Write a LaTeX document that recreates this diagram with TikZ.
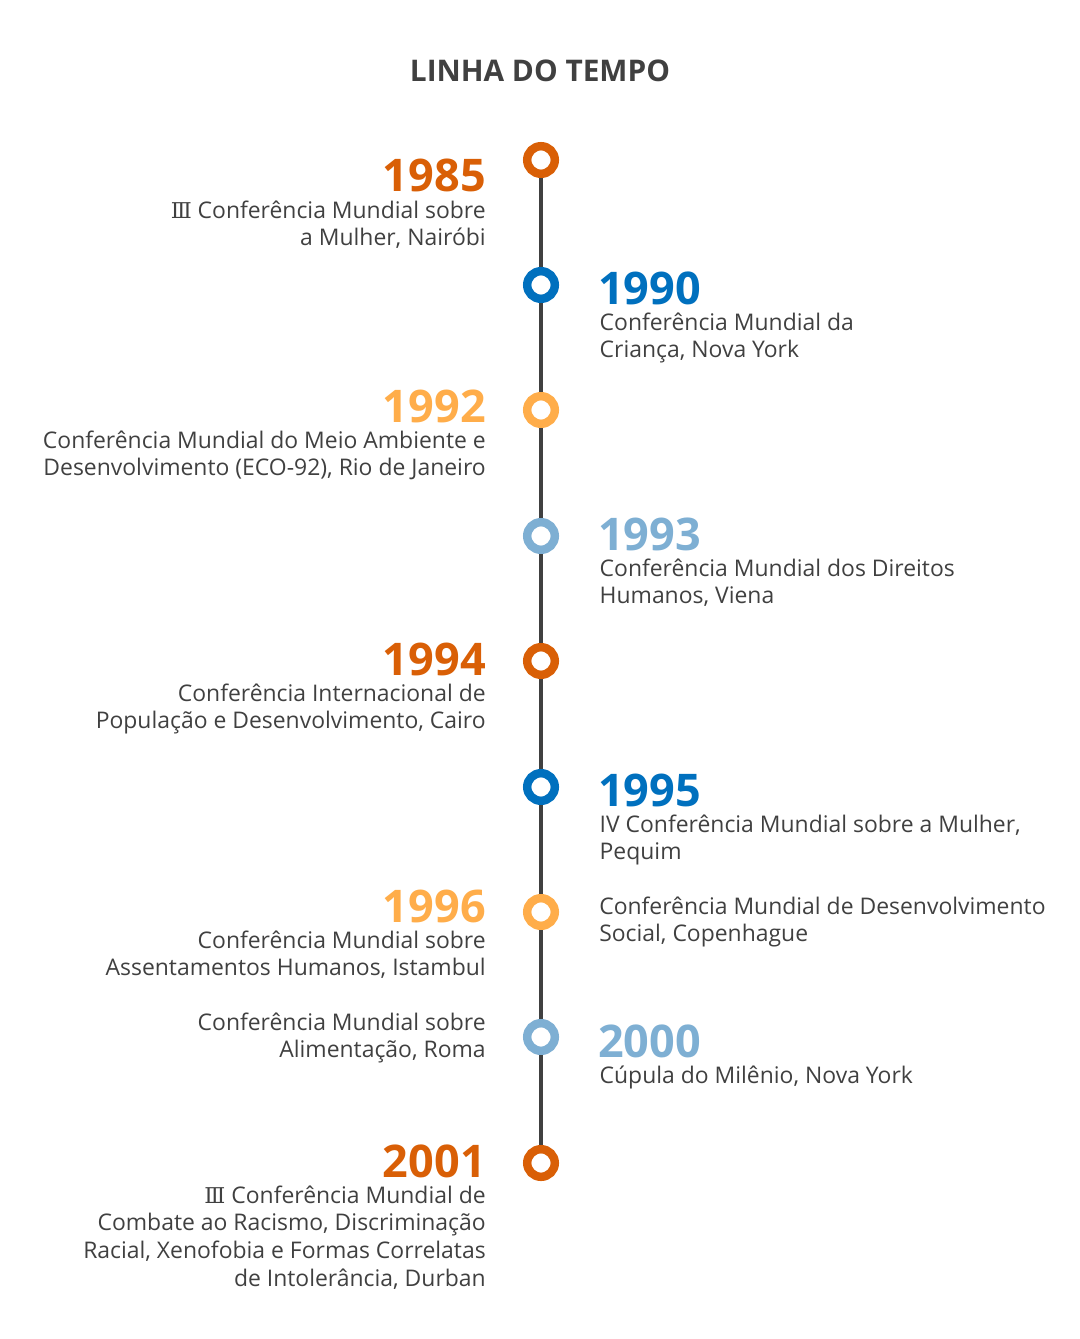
\documentclass[tikz,border=0pt]{standalone}
\usepackage{fontspec}
\setmainfont{Open Sans}
\newfontfamily\numfont[Scale=0.95]{DejaVu Serif}
\usepackage{tikz}
\usetikzlibrary{positioning}

\definecolor{orangeDark}{HTML}{D95F06}
\definecolor{blueDark}{HTML}{0070BE}
\definecolor{orangeLight}{HTML}{FFAD4A}
\definecolor{blueLight}{HTML}{7EAFD3}
\definecolor{txtGray}{HTML}{404040}

% lines of a description, first line on the baseline
\newcommand{\linesR}[1]{\begin{tabular}[t]{@{}r@{}}#1\end{tabular}}
\newcommand{\linesL}[1]{\begin{tabular}[t]{@{}l@{}}#1\end{tabular}}
\newcommand{\romIII}{{\numfont Ⅲ}}

\begin{document}
\begin{tikzpicture}[x=0.025cm, y=-0.025cm,
    ring/.style={circle, draw=#1, line width=6pt, fill=white,
                 minimum size=0.69cm, inner sep=0pt},
    yr/.style={font=\fontsize{32}{32}\selectfont\bfseries, text=#1, inner sep=0pt},
    desc/.style={font=\fontsize{16.3}{19.7}\selectfont, text=txtGray, inner sep=0pt},
    spine/.style={draw=txtGray, line width=2.8pt}]

    \useasboundingbox (0, 0) rectangle (1079, 1339);

    % title
    \node[font=\fontsize{21.2}{21.2}\selectfont\bfseries, text=txtGray, inner sep=0pt,
          anchor=base] (title) at (540, 82) {LINHA DO TEMPO};

    % rings on the time axis
    \node[ring=orangeDark]  (c1985) at (541, 160) {};
    \node[ring=blueDark]    (c1990) at (541, 285) {};
    \node[ring=orangeLight] (c1992) at (541, 410) {};
    \node[ring=blueLight]   (c1993) at (541, 536) {};
    \node[ring=orangeDark]  (c1994) at (541, 661) {};
    \node[ring=blueDark]    (c1995) at (541, 787) {};
    \node[ring=orangeLight] (c1996) at (541, 912) {};
    \node[ring=blueLight]   (c2000) at (541, 1037) {};
    \node[ring=orangeDark]  (c2001) at (541, 1163) {};

    \draw[spine] (c1985) -- (c1990) -- (c1992) -- (c1993) -- (c1994)
        -- (c1995) -- (c1996) -- (c2000) -- (c2001);

    % left side
    \node[yr=orangeDark, anchor=base east] (y1985) at (486, 192) {1985};
    \node[desc, below=0.65cm of y1985.base east, anchor=base east] (d1985)
        {\linesR{\romIII{} Conferência Mundial sobre\\a Mulher, Nairóbi}};

    \node[yr=orangeLight, anchor=base east] (y1992) at (486, 422) {1992};
    \node[desc, below=0.65cm of y1992.base east, anchor=base east] (d1992)
        {\linesR{Conferência Mundial do Meio Ambiente e\\Desenvolvimento (ECO-92), Rio de Janeiro}};

    \node[yr=orangeDark, anchor=base east] (y1994) at (486, 675) {1994};
    \node[desc, below=0.65cm of y1994.base east, anchor=base east] (d1994)
        {\linesR{Conferência Internacional de\\População e Desenvolvimento, Cairo}};

    \node[yr=orangeLight, anchor=base east] (y1996) at (486, 922) {1996};
    \node[desc, below=0.65cm of y1996.base east, anchor=base east] (d1996)
        {\linesR{Conferência Mundial sobre\\Assentamentos Humanos, Istambul}};
    \node[desc, anchor=base east] (d1996b) at (486, 1030)
        {\linesR{Conferência Mundial sobre\\Alimentação, Roma}};

    \node[yr=orangeDark, anchor=base east] (y2001) at (486, 1177) {2001};
    \node[desc, below=0.65cm of y2001.base east, anchor=base east] (d2001)
        {\linesR{\romIII{} Conferência Mundial de\\Combate ao Racismo, Discriminação\\Racial, Xenofobia e Formas Correlatas\\de Intolerância, Durban}};

    % right side
    \node[yr=blueDark, anchor=base west] (y1990) at (598, 304) {1990};
    \node[desc, below=0.65cm of y1990.base west, anchor=base west, xshift=1] (d1990)
        {\linesL{Conferência Mundial da\\Criança, Nova York}};

    \node[yr=blueLight, anchor=base west] (y1993) at (598, 550) {1993};
    \node[desc, below=0.65cm of y1993.base west, anchor=base west, xshift=1] (d1993)
        {\linesL{Conferência Mundial dos Direitos\\Humanos, Viena}};

    \node[yr=blueDark, anchor=base west] (y1995) at (598, 806) {1995};
    \node[desc, below=0.65cm of y1995.base west, anchor=base west, xshift=1] (d1995)
        {\linesL{IV Conferência Mundial sobre a Mulher,\\Pequim}};
    \node[desc, anchor=base west] (d1995b) at (599, 914)
        {\linesL{Conferência Mundial de Desenvolvimento\\Social, Copenhague}};

    \node[yr=blueLight, anchor=base west] (y2000) at (598, 1057) {2000};
    \node[desc, below=0.65cm of y2000.base west, anchor=base west, xshift=1] (d2000)
        {\linesL{Cúpula do Milênio, Nova York}};

\end{tikzpicture}
\end{document}
